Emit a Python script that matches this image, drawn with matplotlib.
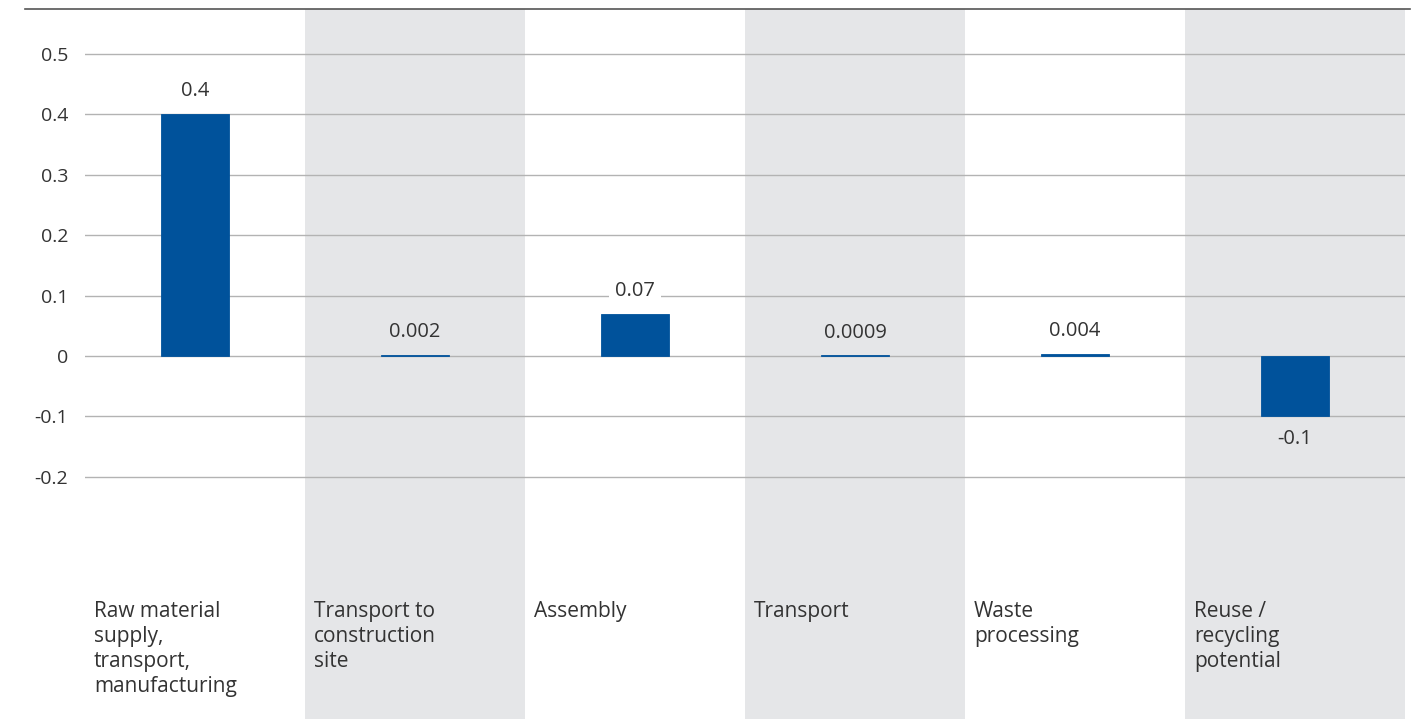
import matplotlib.pyplot as plt
from matplotlib.lines import Line2D

categories = ["Raw material\nsupply,\ntransport,\nmanufacturing",
              "Transport to\nconstruction\nsite",
              "Assembly",
              "Transport",
              "Waste\nprocessing",
              "Reuse /\nrecycling\npotential"]
values = [0.4, 0.002, 0.07, 0.0009, 0.004, -0.1]
value_labels = ["0.4", "0.002", "0.07", "0.0009", "0.004", "-0.1"]
yticks = [0.5, 0.4, 0.3, 0.2, 0.1, 0, -0.1, -0.2]
ytick_labels = ["0.5", "0.4", "0.3", "0.2", "0.1", "0", "-0.1", "-0.2"]

plt.rcParams['font.family'] = ['Open Sans', 'DejaVu Sans']
blue = "#00529B"
band = "#E5E6E8"
grid = "#B3B3B3"
text_c = "#333333"

fig = plt.figure(figsize=(14.15, 7.19), dpi=100)
W, H = 1415, 719
ax = fig.add_axes([85 / W, 0, 1320 / W, 1 - 9 / H])
ax.set_xlim(-0.5, 5.5)
ax.set_ylim(-0.601, 0.5745)

# alternating column backgrounds
for i in range(len(categories)):
    if i % 2 == 1:
        ax.axvspan(i - 0.5, i + 0.5, color=band, lw=0, zorder=0)

for t in yticks:
    ax.axhline(t, color=grid, lw=1, zorder=1)

x = list(range(len(values)))
ax.bar(x, values, width=0.305, color=blue, edgecolor=blue, linewidth=0.6, zorder=2)

for i, (v, lab) in enumerate(zip(values, value_labels)):
    bg = band if i % 2 == 1 else "white"
    off = 16.5 if v >= 0 else -16
    ax.annotate(lab, (i, v), xytext=(0, off), textcoords="offset points",
                ha="center", va="center", fontsize=14.5, color=text_c, zorder=3,
                bbox=dict(boxstyle="square,pad=0.3", fc=bg, ec="none"))

for i, c in enumerate(categories):
    ax.text(i - 0.5 + 9 / 220, -0.406, c, ha="left", va="top", fontsize=15,
            color=text_c, linespacing=1.25)

ax.set_yticks(yticks)
ax.set_yticklabels(ytick_labels, fontsize=14, color=text_c)
ax.tick_params(axis="y", length=0, pad=12)
ax.set_xticks([])
for s in ax.spines.values():
    s.set_visible(False)

fig.add_artist(Line2D([25 / W, 1410 / W], [1 - 9 / H, 1 - 9 / H], color="#555555", lw=1.2))

fig.savefig("out.png", dpi=100)
